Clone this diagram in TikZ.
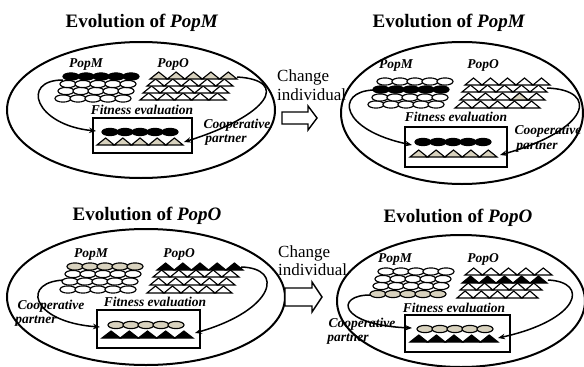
\documentclass[tikz,border=0pt]{standalone}
\usepackage{fontspec}
\setmainfont{Liberation Serif}
\usetikzlibrary{arrows.meta}
\definecolor{beige}{RGB}{216,210,190}
\tikzset{
 ttl/.style={font=\fontsize{19}{22}\selectfont\bfseries, inner sep=0pt, anchor=base},
 lbl/.style={font=\fontsize{13.5}{16}\selectfont\bfseries\itshape, inner sep=0pt, anchor=base},
 chg/.style={font=\fontsize{17}{19}\selectfont, inner sep=0pt, anchor=base west},
 outer/.style={line width=2pt},
 evalbox/.style={line width=2.5pt},
 link/.style={line width=1.5pt, -{Stealth[length=7pt,width=5.5pt]}},
 ovalst/.style={line width=1.15pt},
 trist/.style={line width=1.15pt, line join=miter},
 hollow/.style={line width=1.4pt, fill=white, line join=miter},
}
% #1 left x, #2 centre y, #3 fill
\newcommand\ovrow[3]{%
  \foreach \i in {0,...,4}{\draw[ovalst, fill=#3] ({#1+8+15*\i},#2) ellipse [x radius=8pt, y radius=3.6pt];}}
% #1 left x, #2 base y, #3 fill, #4 width
\newcommand\trirow[4]{%
  \foreach \i in {0,...,4}{\draw[trist, fill=#3] ({#1+#4*\i},#2) -- ++({#4/2},-7) -- ++({#4/2},7) -- cycle;}}
\begin{document}
\begin{tikzpicture}[x=1pt,y=-1pt]
\useasboundingbox (0,0) rectangle (584,367);

% ================= Panel 1 (top left) =================
\node[ttl] (t1) at (142,27) {Evolution of \textit{PopM}};
\draw[outer] (141,110) ellipse [x radius=134pt, y radius=68pt];
\coordinate (p1ls) at (63,80);  \coordinate (p1lt) at (96,131);
\coordinate (p1rs) at (237,77); \coordinate (p1rt) at (184,142);
\draw[link] (p1ls) .. controls (20,80) and (35,125) .. (p1lt);
\draw[link] (p1rs) .. controls (290,80) and (270,115) .. (p1rt);
\ovrow{55}{98.5}{white}\ovrow{58}{91}{white}\ovrow{60}{84}{white}\ovrow{63}{76.5}{black}
\trirow{140}{100}{white}{17.2}\trirow{143}{93}{white}{17.2}\trirow{147}{86}{white}{17.2}\trirow{150}{79}{beige}{17.4}
\draw[evalbox] (93,118) rectangle (192,153);
\ovrow{102}{132}{black}
\trirow{97}{145}{beige}{17.2}
\node[lbl] (m1) at (86,67) {PopM};
\node[lbl] (o1) at (173,67) {PopO};
\node[lbl] (f1) at (142,114) {Fitness evaluation};
\node[lbl] (c1) at (237,128) {Cooperative};
\node[lbl] (q1) at (226,142) {partner};

% change arrow (top)
\node[chg] (ch1) at (277,81) {Change};
\node[chg] (in1) at (277,100) {individual};
\draw[hollow] (282,112) -- (308,112) -- (308,106) -- (317,118) -- (308,130) -- (308,124) -- (282,124) -- cycle;

% ================= Panel 2 (top right) =================
\node[ttl] (t2) at (449,27) {Evolution of \textit{PopM}};
\draw[outer] (462,113) ellipse [x radius=121pt, y radius=71pt];
\coordinate (p2ls) at (373,90);  \coordinate (p2lt) at (412,145);
\coordinate (p2rs) at (547,88);  \coordinate (p2rt) at (500,155);
\draw[link] (p2ls) .. controls (335,92) and (340,130) .. (p2lt);
\draw[link] (p2rs) .. controls (600,90) and (590,130) .. (p2rt);
\ovrow{368}{104.5}{white}\ovrow{372}{97.5}{white}\ovrow{373}{89.5}{black}\ovrow{377}{81.5}{white}
\trirow{455}{108}{white}{17}\trirow{460}{100}{white}{17}\trirow{462}{92}{white}{17}\trirow{465}{85}{white}{17}
\draw[trist, fill=beige] (511,100) -- ++(8.5,-7) -- ++(8.5,7) -- cycle;
\draw[evalbox] (405,127) rectangle (507,167);
\ovrow{415}{142}{black}
\trirow{410}{157}{beige}{17.4}
\node[lbl] (m2) at (396,68) {PopM};
\node[lbl] (o2) at (483,68) {PopO};
\node[lbl] (f2) at (456,121) {Fitness evaluation};
\node[lbl] (c2) at (548,134) {Cooperative};
\node[lbl] (q2) at (537,149) {partner};

% ================= Panel 3 (bottom left) =================
\node[ttl] (t3) at (147,220) {Evolution of \textit{PopO}};
\draw[outer] (146,297) ellipse [x radius=139pt, y radius=68pt];
\coordinate (p3ls) at (67,280);  \coordinate (p3lt) at (100,327);
\coordinate (p3rs) at (241,267); \coordinate (p3rt) at (195,333);
\draw[link] (p3ls) .. controls (20,280) and (30,322) .. (p3lt);
\draw[link] (p3rs) .. controls (285,268) and (275,310) .. (p3rt);
\ovrow{60}{289.5}{white}\ovrow{62}{281.5}{white}\ovrow{65}{274}{white}\ovrow{67}{266.5}{beige}
\trirow{147}{293}{white}{17}\trirow{150}{285}{white}{17}\trirow{153}{277}{white}{17.2}\trirow{157}{270}{black}{17.2}
\draw[evalbox] (97,310) rectangle (200,348);
\ovrow{108}{325}{beige}
\trirow{102}{338}{black}{18.2}
\node[lbl] (m3) at (91,257) {PopM};
\node[lbl] (o3) at (179,257) {PopO};
\node[lbl] (f3) at (155,306) {Fitness evaluation};
\node[lbl] (c3) at (51,309) {Cooperative};
\node[lbl] (q3) at (36,323) {partner};

% change arrow (bottom)
\node[chg] (ch2) at (278,257) {Change};
\node[chg] (in2) at (278,275) {individual};
\draw[hollow] (285,288) -- (312,288) -- (312,282) -- (322,297) -- (312,312) -- (312,306) -- (285,306) -- cycle;

% ================= Panel 4 (bottom right) =================
\node[ttl] (t4) at (458,222) {Evolution of \textit{PopO}};
\draw[outer] (461,301) ellipse [x radius=124pt, y radius=66pt];
\coordinate (p4ls) at (370,295);  \coordinate (p4lt) at (412,328);
\coordinate (p4rs) at (548,280);  \coordinate (p4rt) at (498,338);
\draw[link] (p4ls) .. controls (335,295) and (338,325) .. (p4lt);
\draw[link] (p4rs) .. controls (590,282) and (580,320) .. (p4rt);
\ovrow{370}{294}{beige}\ovrow{373}{286}{white}\ovrow{375}{279}{white}\ovrow{378}{271.5}{white}
\trirow{457}{298}{white}{16.2}\trirow{460}{290}{white}{16.4}\trirow{462}{283}{black}{17}\trirow{465}{275}{white}{17.4}
\draw[evalbox] (405,315) rectangle (510,352);
\ovrow{417}{329}{beige}
\trirow{410}{342}{black}{17.6}
\node[lbl] (m4) at (395,262) {PopM};
\node[lbl] (o4) at (483,262) {PopO};
\node[lbl] (f4) at (454,312) {Fitness evaluation};
\node[lbl] (c4) at (362,327) {Cooperative};
\node[lbl] (q4) at (348,341) {partner};
\end{tikzpicture}
\end{document}
